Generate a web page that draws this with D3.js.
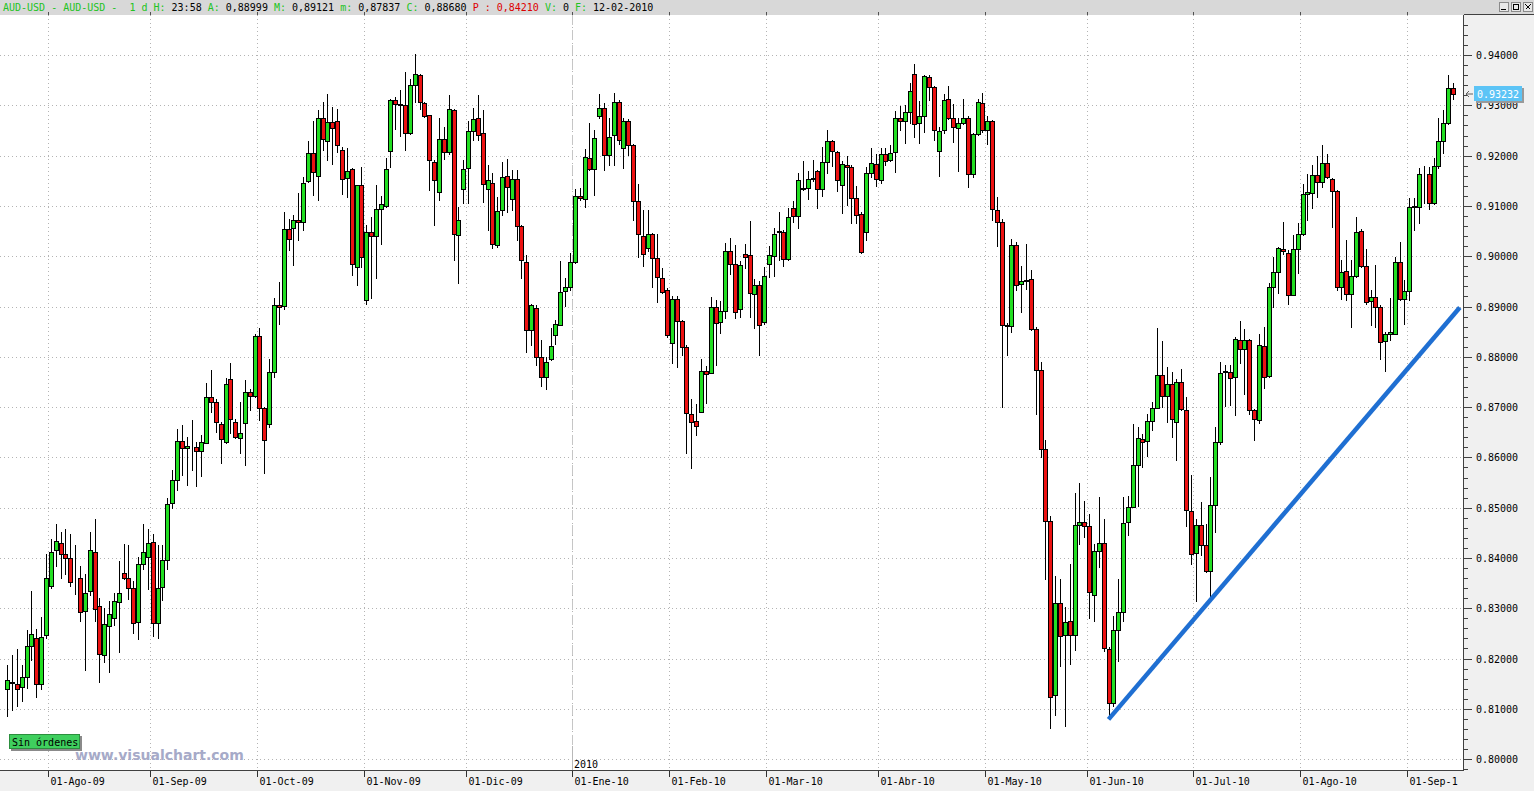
<!DOCTYPE html>
<html>
<head>
<meta charset="utf-8">
<script src="https://cdn.jsdelivr.net/npm/d3@7"></script>
<style>
  html, body { margin: 0; padding: 0; background: #fff; overflow: hidden; }
  svg { display: block; }
  text { white-space: pre; }
</style>
</head>
<body>
<div id="chart"></div>
<script>
// ---- data -------------------------------------------------------------
var symbol = "AUD-USD";
var firstDay = "2009-07-21", lastDay = "2010-09-14";
var holidays = ["2009-12-25", "2010-01-01"];
var cursorDay = "2010-02-12";
var monthNames = ["Ene", "Feb", "Mar", "Abr", "May", "Jun", "Jul", "Ago", "Sep", "Oct", "Nov", "Dic"];

var opens = [
  .8140,.8152,.8149,.8144,.8164,.8224,.8240,.8149,.8246,.8344,
  .8416,.8429,.8408,.8400,.8359,.8360,.8295,.8335,.8411,.8304,
  .8208,.8265,.8280,.8313,.8370,.8361,.8341,.8273,.8388,.8401,
  .8431,.8270,.8343,.8396,.8510,.8556,.8633,.8618,.8623,.8621,
  .8613,.8629,.8721,.8711,.8666,.8631,.8755,.8671,.8638,.8668,
  .8731,.8722,.8841,.8699,.8666,.8769,.8903,.8902,.9055,.9057,
  .9072,.9068,.9149,.9206,.9160,.9274,.9230,.9267,.9268,.9211,
  .9156,.9173,.8979,.9142,.8913,.9048,.9040,.9093,.9099,.9209,
  .9311,.9302,.9300,.9246,.9340,.9361,.9305,.9280,.9187,.9127,
  .9234,.9207,.9291,.9042,.9133,.9175,.9250,.9274,.9246,.9133,
  .9146,.9022,.9092,.9160,.9114,.9153,.9060,.8989,.8853,.8898,
  .8800,.8760,.8795,.8844,.8864,.8931,.8939,.8989,.9120,.9113,
  .9196,.9173,.9279,.9294,.9201,.9241,.9307,.9216,.9269,.9222,
  .9110,.9041,.9016,.9044,.8996,.8957,.8933,.8827,.8915,.8871,
  .8819,.8686,.8673,.8691,.8771,.8768,.88999,.8870,.8891,.9010,
  .8984,.8895,.9004,.9003,.8925,.8943,.8869,.8984,.9000,.9050,
  .9049,.8995,.9096,.9081,.9135,.9135,.9155,.9170,.9134,.9187,
  .9230,.9208,.9142,.9182,.9177,.9116,.9085,.9048,.9165,.9183,
  .9152,.9204,.9191,.9207,.9275,.9269,.9287,.9362,.9265,.9278,
  .9356,.9336,.9210,.9252,.9313,.9275,.9255,.9265,.9275,.9164,
  .9243,.9305,.9252,.9268,.9091,.9068,.8863,.8861,.9022,.8944,
  .8951,.8954,.8856,.8773,.8616,.8474,.8128,.8311,.8246,.8275,
  .8246,.8466,.8471,.8463,.8327,.8413,.8430,.8219,.8111,.8257,
  .8293,.8471,.8502,.8584,.8637,.8632,.8672,.8699,.8763,.8723,
  .8745,.8670,.8749,.8695,.8494,.8410,.8465,.8425,.8375,.8506,
  .8630,.8769,.8770,.8759,.8834,.8815,.8834,.8694,.8674,.8821,
  .8762,.8939,.8969,.9015,.9007,.8923,.9015,.9044,.9124,.9126,
  .9162,.9148,.9186,.9154,.9130,.8939,.8971,.8925,.8960,.9050,
  .8980,.8911,.8919,.8899,.8832,.8845,.8846,.8989,.8914,.8930,
  .9098,.9097,.9164,.9164,.9105,.9179,.9230,.9264,.9335
];
var highs = [
  .8188,.8208,.8218,.8187,.8257,.8335,.8258,.8283,.8408,.8438,
  .8468,.8451,.8458,.8448,.8426,.8385,.8368,.8451,.8477,.8321,
  .8301,.8315,.8330,.8393,.8427,.8425,.8355,.8401,.8468,.8458,
  .8448,.8425,.8425,.8520,.8575,.8656,.8664,.8641,.8674,.8630,
  .8644,.8747,.8774,.8716,.8671,.8757,.8787,.8677,.8711,.8754,
  .8735,.8846,.8858,.8700,.8795,.8916,.8948,.9087,.9075,.9083,
  .9125,.9158,.9230,.9269,.9291,.9307,.9323,.9297,.9293,.9217,
  .9215,.9176,.9142,.9177,.9062,.9078,.9141,.9119,.9196,.9313,
  .9317,.9330,.9366,.9353,.9403,.9363,.9307,.9280,.9191,.9274,
  .9257,.9320,.9293,.9098,.9191,.9268,.9294,.9321,.9291,.9181,
  .9165,.9118,.9188,.9193,.9171,.9171,.9062,.9002,.8906,.8903,
  .8833,.8800,.8858,.8873,.8990,.8956,.9006,.9134,.9135,.9214,
  .9264,.9251,.9323,.9304,.9274,.9325,.9311,.9274,.9272,.9224,
  .9144,.9092,.9092,.9047,.9045,.8976,.8936,.8921,.8920,.8873,
  .8823,.8716,.8706,.8796,.8781,.8918,.89121,.8910,.9026,.9036,
  .9023,.8990,.9024,.9070,.8955,.8951,.8978,.9021,.9056,.9087,
  .9053,.9096,.9109,.9165,.9190,.9169,.9192,.9172,.9218,.9252,
  .9232,.9209,.9189,.9199,.9182,.9140,.9087,.9177,.9215,.9203,
  .9215,.9215,.9222,.9288,.9298,.9300,.9344,.9382,.9308,.9361,
  .9361,.9338,.9258,.9323,.9339,.9303,.9275,.9313,.9278,.9245,
  .9313,.9325,.9278,.9271,.9117,.9075,.8868,.9035,.9029,.8980,
  .9025,.8972,.8859,.8790,.8635,.8484,.8365,.8358,.8303,.8388,
  .8529,.8549,.8514,.8488,.8428,.8521,.8477,.8222,.8284,.8358,
  .8521,.8524,.8667,.8660,.8647,.8687,.8710,.8858,.8831,.8780,
  .8770,.8756,.8776,.8720,.8564,.8478,.8511,.8468,.8561,.8660,
  .8790,.8783,.8783,.8840,.8871,.8856,.8835,.8697,.8845,.8860,
  .8947,.8999,.9019,.9068,.9012,.9042,.9066,.9144,.9164,.9182,
  .9199,.9221,.9204,.9156,.9131,.8992,.9033,.8992,.9079,.9055,
  .9015,.8932,.8982,.8903,.8850,.8916,.8999,.9028,.8952,.9115,
  .9115,.9176,.9179,.9177,.9196,.9274,.9291,.9360,.9344
];
var lows = [
  .8085,.8097,.8105,.8115,.8141,.8198,.8123,.8139,.8240,.8341,
  .8385,.8360,.8368,.8345,.8329,.8275,.8178,.8327,.8275,.8153,
  .8193,.8173,.8267,.8213,.8358,.8318,.8251,.8238,.8378,.8338,
  .8245,.8240,.8316,.8378,.8500,.8535,.8565,.8545,.8575,.8544,
  .8562,.8628,.8691,.8651,.8589,.8629,.8648,.8638,.8608,.8585,
  .8694,.8720,.8674,.8568,.8661,.8759,.8866,.8895,.9012,.8982,
  .9032,.9052,.9147,.9121,.9111,.9211,.9191,.9184,.9207,.9124,
  .9118,.8962,.8942,.8979,.8906,.8916,.8956,.9025,.9098,.9177,
  .9254,.9240,.9211,.9244,.9307,.9293,.9277,.9131,.9062,.9111,
  .9194,.9204,.8993,.8946,.9105,.9105,.9231,.9231,.9108,.9052,
  .9016,.9019,.9082,.9088,.9092,.9032,.8956,.8810,.8823,.8783,
  .8742,.8735,.8793,.8825,.8864,.8901,.8933,.8986,.9112,.9098,
  .9172,.9122,.9274,.9171,.9181,.9181,.9224,.9175,.9201,.9072,
  .8999,.8981,.9010,.8938,.8909,.8926,.8840,.8788,.8780,.8803,
  .8608,.8578,.8645,.8690,.8708,.8768,.87837,.8847,.8877,.8964,
  .8877,.8880,.8976,.8880,.8858,.8804,.8865,.8958,.8960,.8993,
  .8980,.8993,.9069,.9057,.9132,.9114,.9149,.9096,.9120,.9165,
  .9179,.9130,.9086,.9102,.9066,.9066,.9006,.9033,.9157,.9139,
  .9145,.9182,.9189,.9167,.9252,.9225,.9265,.9238,.9225,.9248,
  .9311,.9232,.9159,.9245,.9272,.9227,.9170,.9262,.9137,.9157,
  .9242,.9248,.9223,.9073,.9021,.8700,.8803,.8850,.8932,.8889,
  .8934,.8853,.8687,.8600,.8358,.8062,.8088,.8186,.8066,.8189,
  .8217,.8428,.8441,.8281,.8275,.8382,.8214,.8080,.8106,.8196,
  .8274,.8445,.8501,.8504,.8581,.8602,.8654,.8698,.8700,.8670,
  .8640,.8594,.8694,.8463,.8388,.8315,.8405,.8372,.8319,.8451,
  .8627,.8703,.8704,.8684,.8787,.8727,.8687,.8634,.8668,.8737,
  .8760,.8899,.8926,.9005,.8906,.8923,.8966,.9042,.9072,.9095,
  .9117,.9138,.9156,.9058,.8932,.8914,.8913,.8860,.8959,.8979,
  .8906,.8863,.8860,.8795,.8772,.8833,.8845,.8913,.8866,.8913,
  .9052,.9066,.9105,.9093,.9103,.9176,.9205,.9262,.9313
];
var closes = [
  .8158,.8153,.8140,.8164,.8224,.8248,.8149,.8243,.8360,.8411,
  .8433,.8408,.8400,.8352,.8358,.8293,.8331,.8416,.8298,.8210,
  .8268,.8288,.8315,.8330,.8360,.8341,.8271,.8388,.8411,.8429,
  .8270,.8341,.8396,.8507,.8555,.8633,.8618,.8623,.8622,.8612,
  .8631,.8721,.8711,.8671,.8636,.8745,.8676,.8640,.8648,.8730,
  .8722,.8841,.8699,.8634,.8769,.8903,.8900,.9055,.9035,.9072,
  .9069,.9146,.9206,.9168,.9274,.9234,.9267,.9256,.9221,.9154,
  .9170,.8985,.9142,.8999,.9048,.9040,.9093,.9103,.9174,.9311,
  .9302,.9300,.9246,.9340,.9363,.9307,.9278,.9191,.9152,.9234,
  .9207,.9293,.9045,.9073,.9173,.9250,.9272,.9241,.9143,.9151,
  .9025,.9090,.9158,.9137,.9153,.9060,.8992,.8854,.8903,.8800,
  .8759,.8790,.8822,.8866,.8929,.8939,.8988,.9120,.9115,.9198,
  .9173,.9236,.9294,.9201,.9238,.9307,.9232,.9269,.9221,.9110,
  .9044,.9004,.9044,.8996,.8958,.8929,.8844,.8915,.8871,.8819,
  .8689,.8671,.8663,.8771,.8766,.8900,.88680,.8891,.9010,.8984,
  .8890,.8982,.8998,.8927,.8943,.8864,.8961,.9003,.9044,.9049,
  .8995,.9078,.9081,.9151,.9134,.9153,.9154,.9134,.9187,.9230,
  .9210,.9151,.9183,.9177,.9116,.9083,.9008,.9165,.9185,.9153,
  .9204,.9190,.9206,.9275,.9269,.9287,.9329,.9262,.9278,.9359,
  .9336,.9252,.9250,.9311,.9275,.9258,.9265,.9275,.9164,.9243,
  .9306,.9252,.9268,.9094,.9068,.8863,.8862,.9022,.8942,.8951,
  .8952,.8856,.8773,.8616,.8474,.8124,.8311,.8244,.8272,.8247,
  .8466,.8471,.8463,.8333,.8413,.8430,.8221,.8111,.8257,.8293,
  .8469,.8502,.8584,.8639,.8630,.8672,.8699,.8763,.8723,.8745,
  .8677,.8749,.8697,.8496,.8408,.8465,.8425,.8375,.8506,.8630,
  .8768,.8771,.8757,.8836,.8815,.8834,.8694,.8677,.8823,.8760,
  .8939,.8969,.9017,.9011,.8923,.9015,.9044,.9124,.9127,.9161,
  .9148,.9186,.9158,.9129,.8939,.8968,.8925,.8960,.9048,.8980,
  .8909,.8919,.8899,.8830,.8845,.8850,.8989,.8914,.8931,.9097,
  .9099,.9164,.9164,.9105,.9179,.9230,.9264,.9335,.93232
];

// support line drawn on the chart (candle index, price)
var trendIndex = [227, 299.4];
var trendPrice = [0.8079, 0.8898];

// header extras that are not in the price arrays
var headerP = "0,84210", headerV = "0";

// ---- layout -----------------------------------------------------------
var W = 1534, H = 791;
var plotRight = 1463, plotTop = 15, plotBottom = 770;
var green = "#22de22", red = "#ec1212";
var mono = "'DejaVu Sans Mono', monospace";

var parseDay = d3.utcParse("%Y-%m-%d"), fmtDay = d3.utcFormat("%Y-%m-%d");
var days = d3.utcDay.range(parseDay(firstDay), d3.utcDay.offset(parseDay(lastDay), 1))
    .filter(function(d) {
        var w = d.getUTCDay();
        return w !== 0 && w !== 6 && holidays.indexOf(fmtDay(d)) < 0;
    });

var candles = days.map(function(d, i) {
    return { date: d, i: i, o: opens[i], h: highs[i], l: lows[i], c: closes[i] };
});

var x = d3.scaleLinear().domain([0, candles.length - 1]).range([7.2, 1453]);
var step = x(1) - x(0);
var y = d3.scaleLinear().domain([0.80, 0.94]).range([759.1, 55.1]);

var monthTicks = candles.filter(function(d, i) {
    return i > 0 && d.date.getUTCMonth() !== candles[i - 1].date.getUTCMonth();
});
var yearTicks = candles.filter(function(d, i) {
    return i > 0 && d.date.getUTCFullYear() !== candles[i - 1].date.getUTCFullYear();
});
function tickX(d) { return Math.round(x(d.i) - step / 2) + 0.5; }

var majorTicks = d3.range(80, 95).map(function(v) { return v / 100; });
var minorTicks = d3.range(399, 475).map(function(v) { return v / 500; })
    .filter(function(p) { return y(p) > plotTop && y(p) < plotBottom; });

var svg = d3.select("#chart").append("svg")
    .attr("width", W).attr("height", H)
    .style("font-family", mono);

svg.append("rect").attr("width", W).attr("height", H).attr("fill", "#fff");

var defs = svg.append("defs");
defs.append("clipPath").attr("id", "plotclip")
    .append("rect").attr("x", 0).attr("y", plotTop)
    .attr("width", plotRight).attr("height", plotBottom - plotTop);
defs.append("clipPath").attr("id", "labelclip")
    .append("rect").attr("x", 0).attr("y", plotBottom)
    .attr("width", plotRight - 5).attr("height", H - plotBottom);

// ---- grid -------------------------------------------------------------
var grid = svg.append("g")
    .attr("stroke", "#b4b4b4")
    .attr("stroke-dasharray", "1,3")
    .attr("shape-rendering", "crispEdges");

grid.selectAll(".hgrid").data(majorTicks).enter().append("line")
    .attr("class", "hgrid")
    .attr("x1", 0).attr("x2", plotRight)
    .attr("y1", function(d) { return Math.round(y(d)) + 0.5; })
    .attr("y2", function(d) { return Math.round(y(d)) + 0.5; });

grid.selectAll(".vgrid").data(monthTicks).enter().append("line")
    .attr("class", "vgrid")
    .attr("x1", tickX).attr("x2", tickX)
    .attr("y1", plotTop).attr("y2", plotBottom);

// year separator
var yearG = svg.append("g").attr("shape-rendering", "crispEdges");
yearG.selectAll(".yline").data(yearTicks).enter().append("line")
    .attr("x1", tickX).attr("x2", tickX)
    .attr("y1", plotTop).attr("y2", plotBottom - 22)
    .attr("stroke", "#c6c6c6")
    .attr("stroke-dasharray", "10,5");
yearG.selectAll(".ytick").data(yearTicks).enter().append("line")
    .attr("x1", tickX).attr("x2", tickX)
    .attr("y1", plotBottom - 24).attr("y2", plotBottom)
    .attr("stroke", "#b8b8b8");
yearG.selectAll(".ylabel").data(yearTicks).enter().append("text")
    .attr("x", function(d) { return tickX(d) + 1.5; })
    .attr("y", plotBottom - 2)
    .attr("font-size", "10px")
    .attr("fill", "#000")
    .text(function(d) { return d.date.getUTCFullYear(); });

// ---- candles ----------------------------------------------------------
var cg = svg.append("g").attr("shape-rendering", "crispEdges");
var candle = cg.selectAll(".candle").data(candles).enter().append("g")
    .attr("class", "candle");

candle.append("line")
    .attr("x1", function(d) { return Math.round(x(d.i)) + 0.5; })
    .attr("x2", function(d) { return Math.round(x(d.i)) + 0.5; })
    .attr("y1", function(d) { return Math.round(y(Math.max(d.h, d.o, d.c))); })
    .attr("y2", function(d) { return Math.round(y(Math.min(d.l, d.o, d.c))) + 1; })
    .attr("stroke", "#000");

candle.append("rect")
    .attr("x", function(d) { return Math.round(x(d.i)) - 1.5; })
    .attr("width", 4)
    .attr("y", function(d) { return Math.round(y(Math.max(d.o, d.c))) + 0.5; })
    .attr("height", function(d) {
        return Math.max(Math.round(y(Math.min(d.o, d.c))) - Math.round(y(Math.max(d.o, d.c))), 0);
    })
    .attr("fill", function(d) { return d.c >= d.o ? green : red; })
    .attr("stroke", "#000");

// ---- support line -----------------------------------------------------
svg.append("line")
    .attr("clip-path", "url(#plotclip)")
    .attr("x1", x(trendIndex[0])).attr("y1", y(trendPrice[0]))
    .attr("x2", x(trendIndex[1])).attr("y2", y(trendPrice[1]))
    .attr("stroke", "#1f6fd2")
    .attr("stroke-width", 4.5);

// ---- watermark and order badge ----------------------------------------
svg.append("text")
    .attr("x", 75).attr("y", 760)
    .attr("font-family", "'DejaVu Sans', sans-serif")
    .attr("font-weight", "bold")
    .attr("font-size", "14px")
    .attr("fill", "#a6aac8")
    .text("www.visualchart.com");

svg.append("rect").attr("x", 11).attr("y", 736).attr("width", 71).attr("height", 15)
    .attr("fill", "#8a8a8a");
svg.append("rect").attr("x", 9.5).attr("y", 734.5).attr("width", 70).attr("height", 14)
    .attr("fill", "#3fcf5e").attr("stroke", "#2c8f3e");
svg.append("text")
    .attr("x", 12).attr("y", 745.5)
    .attr("font-size", "10px")
    .attr("fill", "#000")
    .text("Sin órdenes");

// ---- bottom axis ------------------------------------------------------
svg.append("rect")
    .attr("x", 0).attr("y", plotBottom)
    .attr("width", W).attr("height", H - plotBottom)
    .attr("fill", "#f0f0f0");

var bx = svg.append("g").attr("shape-rendering", "crispEdges");
bx.selectAll(".mtick").data(monthTicks).enter().append("line")
    .attr("x1", tickX).attr("x2", tickX)
    .attr("y1", plotBottom).attr("y2", plotBottom + 7)
    .attr("stroke", "#303030");
bx.append("g").attr("clip-path", "url(#labelclip)")
    .selectAll(".mlabel").data(monthTicks).enter().append("text")
    .attr("x", function(d) { return tickX(d) + 2; })
    .attr("y", 785)
    .attr("font-size", "10px")
    .attr("fill", "#000")
    .text(function(d) {
        return "01-" + monthNames[d.date.getUTCMonth()] + "-" + d3.utcFormat("%y")(d.date);
    });

// ---- right axis -------------------------------------------------------
svg.append("rect")
    .attr("x", plotRight + 1).attr("y", plotTop)
    .attr("width", W - plotRight - 1).attr("height", H - plotTop)
    .attr("fill", "#f0f0f0");

var ax = svg.append("g").attr("shape-rendering", "crispEdges");
ax.append("line")
    .attr("x1", plotRight + 0.5).attr("x2", plotRight + 0.5)
    .attr("y1", plotTop).attr("y2", plotBottom + 1)
    .attr("stroke", "#404040");
ax.append("line")
    .attr("x1", 0).attr("x2", plotRight + 1)
    .attr("y1", plotBottom + 0.5).attr("y2", plotBottom + 0.5)
    .attr("stroke", "#404040");

ax.selectAll(".minor").data(minorTicks).enter().append("line")
    .attr("x1", plotRight + 1).attr("x2", plotRight + 5)
    .attr("y1", function(d) { return Math.round(y(d)) + 0.5; })
    .attr("y2", function(d) { return Math.round(y(d)) + 0.5; })
    .attr("stroke", "#404040");
ax.selectAll(".major").data(majorTicks).enter().append("line")
    .attr("x1", plotRight + 1).attr("x2", plotRight + 9)
    .attr("y1", function(d) { return Math.round(y(d)) + 0.5; })
    .attr("y2", function(d) { return Math.round(y(d)) + 0.5; })
    .attr("stroke", "#404040");
ax.selectAll(".plabel").data(majorTicks).enter().append("text")
    .attr("x", plotRight + 13)
    .attr("y", function(d) { return Math.round(y(d)) + 4; })
    .attr("font-size", "10px")
    .attr("fill", "#000")
    .text(d3.format(".5f"));

// last price marker
var last = candles[candles.length - 1];
var ly = Math.round(y(last.c));
svg.append("rect").attr("x", plotRight + 13).attr("y", ly - 6).attr("width", 48).attr("height", 15)
    .attr("fill", "#9a9a9a");
svg.append("rect").attr("x", plotRight + 11).attr("y", ly - 8).attr("width", 48).attr("height", 15)
    .attr("fill", "#5cc4f6");
svg.append("text")
    .attr("x", plotRight + 14).attr("y", ly + 3.5)
    .attr("font-size", "10px")
    .attr("fill", "#fff")
    .text(d3.format(".5f")(last.c));
svg.append("path")
    .attr("d", "M" + (plotRight + 3) + "," + ly + "h7M" + (plotRight + 3) + "," + ly +
        "l3,-3M" + (plotRight + 3) + "," + ly + "l3,3")
    .attr("fill", "none")
    .attr("stroke", "#606060");

// ---- header -----------------------------------------------------------
svg.append("rect").attr("width", W).attr("height", plotTop).attr("fill", "#d8d8d8");
svg.append("line")
    .attr("x1", plotRight + 1).attr("x2", W)
    .attr("y1", plotTop - 0.5).attr("y2", plotTop - 0.5)
    .attr("stroke", "#404040");
svg.selectAll(".htick").data(monthTicks).enter().append("line")
    .attr("x1", tickX).attr("x2", tickX)
    .attr("y1", plotTop - 3).attr("y2", plotTop)
    .attr("stroke", "#505050")
    .attr("shape-rendering", "crispEdges");

var hc = candles.filter(function(d) { return fmtDay(d.date) === cursorDay; })[0];
function comma(v) { return d3.format(".5f")(v).replace(".", ","); }
var headerParts = [
    [symbol + " - " + symbol + " -  1 d H: ", "g"], ["23:58 ", "k"],
    ["A: ", "g"], [comma(hc.o) + " ", "k"],
    ["M: ", "g"], [comma(hc.h) + " ", "k"],
    ["m: ", "g"], [comma(hc.l) + " ", "k"],
    ["C: ", "g"], [comma(hc.c) + " ", "k"],
    ["P : " + headerP + " ", "r"],
    ["V: ", "g"], [headerV + " ", "k"],
    ["F: ", "g"], [d3.utcFormat("%d-%m-%Y")(hc.date), "k"]
];
var headColors = { g: "#22c322", k: "#000", r: "#dd0000" };
svg.append("text")
    .attr("x", 3).attr("y", 11)
    .attr("font-size", "10px")
    .selectAll("tspan").data(headerParts).enter().append("tspan")
    .attr("fill", function(d) { return headColors[d[1]]; })
    .text(function(d) { return d[0]; });

// window buttons
var btn = svg.append("g").attr("shape-rendering", "crispEdges");
[1499, 1511, 1523].forEach(function(bxp, k) {
    btn.append("rect").attr("x", bxp + 0.5).attr("y", 2.5).attr("width", 9).attr("height", 9)
        .attr("fill", "#e8e8e8").attr("stroke", "#8a8a8a");
    if (k === 0) {
        btn.append("line").attr("x1", bxp + 2).attr("x2", bxp + 7).attr("y1", 9.5).attr("y2", 9.5)
            .attr("stroke", "#000");
    } else if (k === 1) {
        btn.append("rect").attr("x", bxp + 2.5).attr("y", 4.5).attr("width", 5).attr("height", 5)
            .attr("fill", "none").attr("stroke", "#000");
    } else {
        btn.append("path").attr("d", "M" + (bxp + 2.5) + ",4.5l5,5M" + (bxp + 7.5) + ",4.5l-5,5")
            .attr("stroke", "#000").attr("stroke-width", 1.3);
    }
});
</script>
</body>
</html>
